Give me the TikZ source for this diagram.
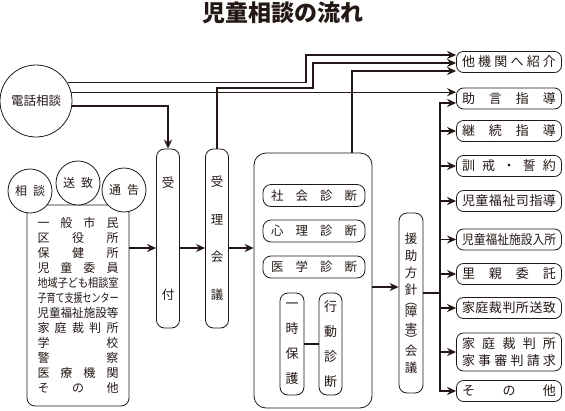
\documentclass[tikz,border=0pt]{standalone}
\usepackage{fontspec}
\setmainfont{Noto Sans CJK JP}
\usepackage{graphicx}
\usetikzlibrary{arrows.meta}
\definecolor{ink}{RGB}{35,24,21}
% spread the characters of #2 evenly over the width #1
\def\spreadnext#1{\ifx#1\relax\else\hfill#1\expandafter\spreadnext\fi}
\def\spreadfirst#1{#1\spreadnext}
\newcommand{\spread}[2]{\hbox to #1{\spreadfirst#2\relax}}
\newcommand{\squeeze}[2]{\resizebox{#1}{\height}{#2}}

\tikzset{
  conn/.style={line width=1.3pt, -{Stealth[length=9pt,width=8pt]}},
  wire/.style={line width=1.3pt},
  frame/.style={draw, line width=0.8pt, inner sep=0pt},
  circ/.style={frame, circle, fill=white},
  bar/.style={frame, rounded corners=8pt, minimum width=23pt, align=center},
  test/.style={frame, rounded corners=8pt, minimum width=102pt, minimum height=22pt, font=\fontsize{12.5}{15}\selectfont},
  item/.style={frame, rounded corners=7pt, minimum width=105pt, minimum height=21pt, font=\fontsize{13}{17}\selectfont}
}

\begin{document}
\begin{tikzpicture}[x=1pt,y=-1pt,ink]
\useasboundingbox (0,0) rectangle (565,410);
\node[font=\fontsize{23}{23}\selectfont\bfseries] (title) at (283,13) {児童相談の流れ};

% phone
\node[circ, minimum size=72pt, font=\fontsize{12.5}{15}\selectfont] (tel) at (36,101) {電話相談};

% who brings the case
\node[frame, rounded corners=8pt, minimum width=102pt, minimum height=201pt, align=center,
      font=\fontsize{12}{15}\selectfont] (src) at (78,305.5) {
  \spread{81pt}{一般市民}\\
  \spread{81pt}{区役所}\\
  \spread{81pt}{保健所}\\
  \spread{81pt}{児童委員}\\
  \squeeze{81pt}{地域子ども相談室}\\
  \squeeze{81pt}{子育て支援センター}\\
  \squeeze{81pt}{児童福祉施設等}\\
  \spread{81pt}{家庭裁判所}\\
  \spread{81pt}{学校}\\
  \spread{81pt}{警察}\\
  \spread{81pt}{医療機関}\\
  \spread{81pt}{その他}};
\node[circ, minimum size=44pt, font=\fontsize{12}{15}\selectfont] (cons) at (30,191) {\spread{30pt}{相談}};
\node[circ, minimum size=44pt, font=\fontsize{12}{15}\selectfont] (send) at (78,183) {\spread{30pt}{送致}};
\node[circ, minimum size=44pt, font=\fontsize{12}{15}\selectfont] (notice) at (124,190) {\spread{30pt}{通告}};

% reception
\node[bar, minimum height=179pt, font=\fontsize{12.5}{37.5}\selectfont] (recv) at (168,238.5) {受\\[75pt]付};
\node[bar, minimum height=179pt, font=\fontsize{12.5}{37.5}\selectfont] (intake) at (217,238.5) {受\\理\\会\\議};

% diagnosis
\node[frame, rounded corners=12pt, minimum width=118pt, minimum height=255pt] (diag) at (313,280.5) {};
\node[test] (social) at (314,195.5) {\spread{86pt}{社会診断}};
\node[test] (psych) at (314,231) {\spread{86pt}{心理診断}};
\node[test] (medic) at (314,267) {\spread{86pt}{医学診断}};
\node[bar, minimum width=24pt, minimum height=102pt, font=\fontsize{13}{25}\selectfont] (shelter) at (292,344) {一\\時\\保\\護};
\node[bar, minimum height=102pt, font=\fontsize{13}{25}\selectfont] (behav) at (330.5,344) {行\\動\\診\\断};
\draw[wire] (shelter) -- (behav);

\node[bar, minimum width=24pt, minimum height=180pt, font=\fontsize{12.5}{17}\selectfont] (plan) at (411,303)
  {援\\助\\方\\針\\[-6pt]︵\\[-6pt]障\\害\\[-6pt]︶\\[-6pt]会\\議};

% outcomes
\node[item] (refer) at (509,62) {\spread{94pt}{他機関へ紹介}};
\node[item] (advise) at (509,98.5) {\spread{94pt}{助言指導}};
\node[item] (cont) at (509,131) {\spread{94pt}{継続指導}};
\node[item] (warn) at (509,166) {\spread{94pt}{訓戒・誓約}};
\node[item] (guide) at (509,201) {\spread{94pt}{児童福祉司指導}};
\node[item] (admit) at (509,239.5) {\squeeze{94pt}{児童福祉施設入所}};
\node[item] (foster) at (509,274) {\spread{94pt}{里親委託}};
\node[item] (court) at (509,308) {\spread{94pt}{家庭裁判所送致}};
\node[item, minimum height=38pt, align=center] (family) at (509,352)
  {\spread{94pt}{家庭裁判所}\\\spread{94pt}{家事審判請求}};
\node[item] (other) at (509,391) {\spread{94pt}{その他}};

% connectors
\draw[conn] (tel.30) -| (306,55) -- (refer.west |- 0,55);
\draw[conn] (tel.14) -- (advise.west |- tel.14);
\draw[conn] (tel.-8) -| (recv.north);
\draw[conn] (intake.north) |- (313,88) |- (refer.west |- 0,63);
\draw[conn] (diag.north -| 352,0) |- (refer.west |- 0,71);
\draw[conn] (src.east |- 0,248) -- (recv.west |- 0,248);
\draw[conn] (recv.east |- 0,248) -- (intake.west |- 0,248);
\draw[conn] (intake.east |- 0,248) -- (diag.west |- 0,248);
\draw[conn] (diag.east |- 0,287) -- (plan.west |- 0,287);
\coordinate (fork) at (440,293);
\draw[conn] (plan.east |- fork) -| (fork |- 0,103) -- (advise.west |- 0,103);
\draw[conn] (fork) |- (other.west);
\foreach \n in {cont,warn,guide,admit,foster,court,family}
  \draw[conn] (\n.west -| fork) -- (\n.west);
\end{tikzpicture}
\end{document}
